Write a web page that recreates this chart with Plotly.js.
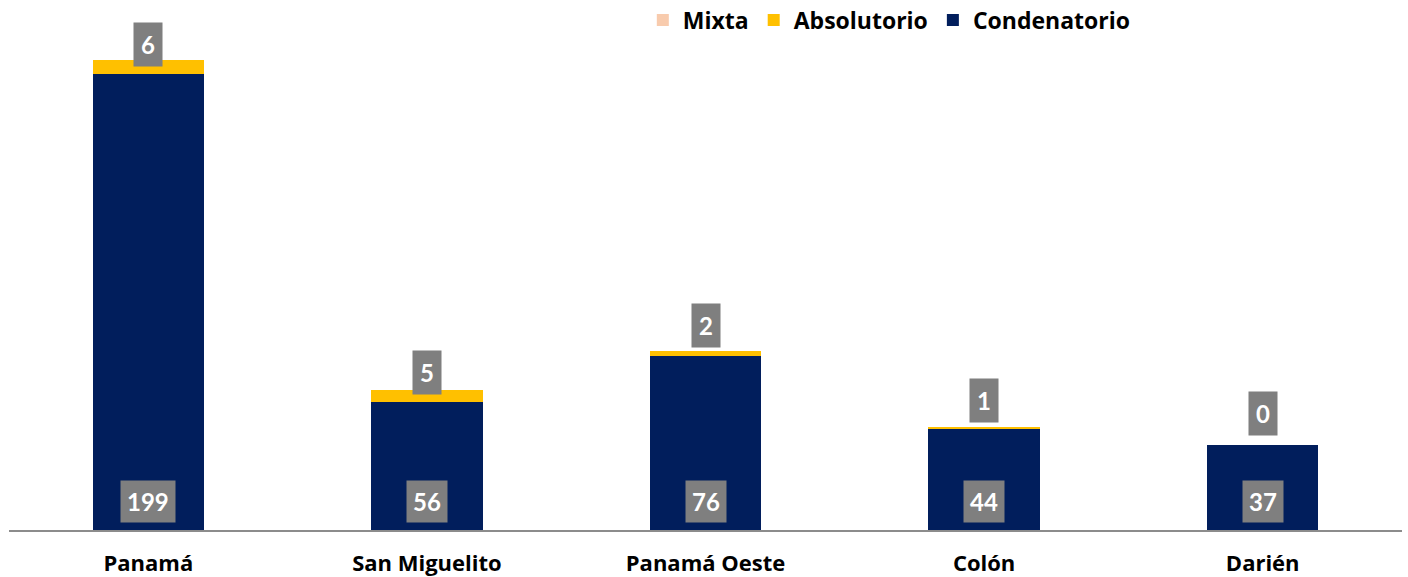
<!DOCTYPE html>
<html>
<head>
<meta charset="utf-8">
<script src="https://cdn.plot.ly/plotly-3.0.1.min.js"></script>
<style>html,body{margin:0;padding:0;background:#fff;}#chart{width:1408px;height:577px;}</style>
</head>
<body>
<div id="chart"></div>
<script>
// Data
const categories = ["Panamá", "San Miguelito", "Panamá Oeste", "Colón", "Darién"];
const condenatorio = [199, 56, 76, 44, 37];
const absolutorio = [6, 5, 2, 1, 0];
const mixta = [0, 0, 0, 0, 0];

// Style / layout tweaks (pixel offsets for the absolutorio label boxes)
const absLabelShiftPx = [-7, -5, 3, 4, 9];

const FONT = "'Open Sans', Lato, sans-serif";
const LABEL_FONT = "Lato, 'Open Sans', sans-serif";
const colors = { cond: "#011E5C", abs: "#FFC000", mix: "#F8CBAD", label: "#7F7F7F" };

const traces = [
  { type: "bar", name: "Condenatorio", x: categories, y: condenatorio, marker: { color: colors.cond }, hoverinfo: "y+name" },
  { type: "bar", name: "Absolutorio", x: categories, y: absolutorio, marker: { color: colors.abs }, hoverinfo: "y+name" },
  { type: "bar", name: "Mixta", x: categories, y: mixta, marker: { color: colors.mix }, hoverinfo: "y+name" }
];

const labelFont = { family: LABEL_FONT, size: 24, color: "#FFFFFF", weight: "bold" };
const annotations = [];
categories.forEach((c, i) => {
  annotations.push({
    x: c, y: 0, xref: "x", yref: "y", yanchor: "bottom", yshift: 7,
    text: String(condenatorio[i]), showarrow: false,
    bgcolor: colors.label, borderpad: 6, font: labelFont
  });
  annotations.push({
    x: c, y: condenatorio[i] + absolutorio[i] + mixta[i], xref: "x", yref: "y",
    yanchor: "bottom", yshift: absLabelShiftPx[i],
    text: String(absolutorio[i]), showarrow: false,
    bgcolor: colors.label, borderpad: 7, font: labelFont
  });
});

const layout = {
  width: 1408, height: 577,
  margin: { l: 9, r: 6, t: 20, b: 47, autoexpand: false },
  paper_bgcolor: "#FFFFFF", plot_bgcolor: "#FFFFFF",
  barmode: "stack", bargap: 0.6,
  font: { family: FONT, size: 22, color: "#000000" },
  showlegend: true,
  legend: {
    orientation: "h", traceorder: "reversed",
    x: 0.455, xanchor: "left", y: 1.0, yanchor: "middle",
    font: { family: FONT, size: 23, color: "#000000", weight: "bold" },
    itemwidth: 30, bgcolor: "rgba(0,0,0,0)"
  },
  xaxis: {
    type: "category", showline: true, linecolor: "#8C8C8C", linewidth: 2,
    showgrid: false, zeroline: false, ticks: "",
    ticklabelstandoff: 13,
    tickfont: { family: FONT, size: 22, color: "#000000", weight: "bold" }
  },
  yaxis: {
    range: [0, 222.4], visible: false, showgrid: false, zeroline: false, fixedrange: true
  },
  annotations: annotations
};

Plotly.newPlot("chart", traces, layout, { displayModeBar: false, staticPlot: true });
</script>
</body>
</html>
